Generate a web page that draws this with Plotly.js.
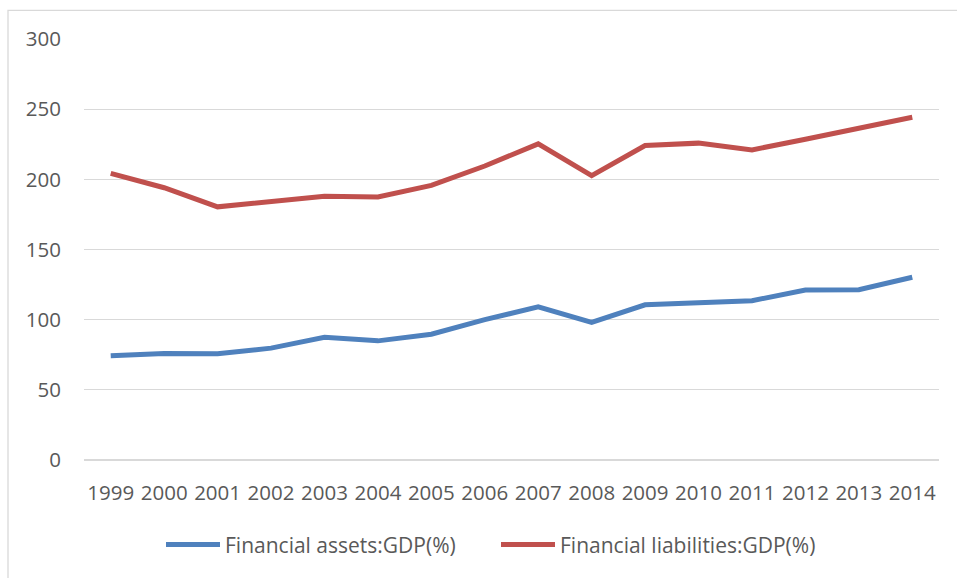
<!DOCTYPE html>
<html>
<head>
<meta charset="utf-8">
<script src="https://cdn.plot.ly/plotly-3.0.1.min.js"></script>
<style>html,body{margin:0;padding:0;background:#fff;}#chart{width:957px;height:578px;}</style>
</head>
<body>
<div id="chart"></div>
<script>
var years = ["1999","2000","2001","2002","2003","2004","2005","2006","2007","2008","2009","2010","2011","2012","2013","2014"];
var assets = [74.3, 75.9, 75.8, 79.7, 87.5, 84.9, 89.6, 100.0, 109.2, 98.1, 110.6, 112.3, 113.5, 121.1, 121.3, 130.2];
var liabilities = [204.3, 194.0, 180.4, 184.0, 188.0, 187.5, 195.7, 209.5, 225.3, 202.6, 224.1, 225.8, 221.0, 228.6, 236.4, 244.2];
var yTicks = [0, 50, 100, 150, 200, 250, 300];

var textColor = '#595959';
var font = {family: '"Open Sans", "Noto Sans", sans-serif', size: 20.5, color: textColor};
var legendFont = {family: '"Open Sans", "Noto Sans", sans-serif', size: 21, color: textColor};

var traces = [
  {x: years, y: assets, type: 'scatter', mode: 'lines', name: 'Financial assets:GDP(%)',
   line: {color: '#4F81BD', width: 5}},
  {x: years, y: liabilities, type: 'scatter', mode: 'lines', name: 'Financial liabilities:GDP(%)',
   line: {color: '#C0504D', width: 5}}
];

var L = 84, R = 939, T = 38.7, B = 461.7;
function px2x(p){ return (p - L) / (R - L); }
function py2y(p){ return (B - p) / (B - T); }

var layout = {
  width: 957, height: 578,
  margin: {l: L, r: 957 - R, t: T, b: 578 - B, pad: 0},
  paper_bgcolor: '#ffffff', plot_bgcolor: '#ffffff',
  font: font,
  showlegend: true,
  legend: {orientation: 'h', x: px2x(161), xanchor: 'left', y: py2y(547), yanchor: 'middle',
           font: legendFont, itemwidth: 54, entrywidth: 266, traceorder: 'normal',
           bgcolor: 'rgba(0,0,0,0)', borderwidth: 0},
  xaxis: {type: 'category', range: [-0.5, years.length - 0.5], tickvals: years, ticktext: years,
          showgrid: false, zeroline: false, showline: false, ticks: '', ticklen: 0,
          tickfont: font, fixedrange: true, ticklabelstandoff: 18},
  yaxis: {range: [0, 300], tickvals: yTicks, ticktext: yTicks.map(String), showgrid: true,
          gridcolor: '#D9D9D9', gridwidth: 1.3, zeroline: true, zerolinecolor: '#D9D9D9',
          zerolinewidth: 1.3, showline: false, ticks: '',
          ticklen: 0, tickfont: font, fixedrange: true, ticklabelstandoff: 22},
  shapes: [
    {type: 'rect', xref: 'paper', yref: 'paper', x0: px2x(8), x1: px2x(990), y0: py2y(10), y1: py2y(620),
     line: {color: '#D9D9D9', width: 1.3}, fillcolor: 'rgba(0,0,0,0)', layer: 'below'}
  ]
};

Plotly.newPlot('chart', traces, layout, {displayModeBar: false, staticPlot: true});
</script>
</body>
</html>
